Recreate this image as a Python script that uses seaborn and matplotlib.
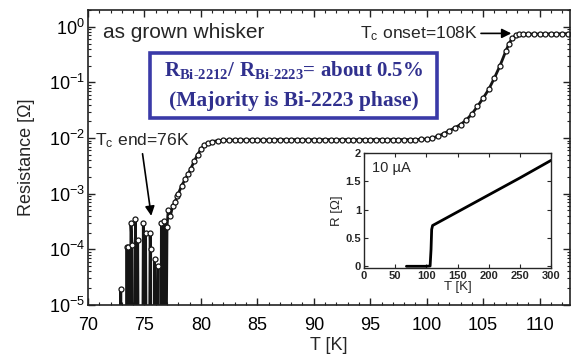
import numpy as np
import pandas as pd
import matplotlib
matplotlib.use("Agg")
import matplotlib.pyplot as plt
import seaborn as sns
from matplotlib.patches import Rectangle
from matplotlib.ticker import LogLocator, MultipleLocator, NullFormatter

# ---------------- data ----------------
temp_K = [72.85, 72.9, 72.95,
          73.4, 73.45, 73.5, 73.55, 73.65,
          73.75, 73.8, 73.9, 73.95,
          74.1, 74.2, 74.3, 74.4, 74.5,
          74.8, 74.9, 75.0, 75.1, 75.2,
          75.4, 75.5, 75.55, 75.6,
          75.85, 75.9, 76.0, 76.2, 76.3,
          76.45, 76.5, 76.6, 76.75, 76.85,
          77.0, 77.1, 77.3, 77.5, 77.7, 77.9, 78.0, 78.3, 78.6, 78.9,
          79.1, 79.4, 79.7, 80.0, 80.3, 80.6, 81.0,
          81.5, 82.0, 82.5, 83.0, 83.5, 84.0, 84.5, 85.0, 85.5, 86.0,
          86.5, 87.0, 87.5, 88.0, 88.5, 89.0, 89.5, 90.0, 90.5, 91.0,
          91.5, 92.0, 92.5, 93.0, 93.5, 94.0, 94.5, 95.0, 95.5, 96.0,
          96.5, 97.0, 97.5, 98.0, 98.5, 99.0, 99.5, 100.0,
          100.5, 101.0, 101.5, 102.0, 102.5, 103.0, 103.5, 104.0, 104.5,
          105.0, 105.5, 106.0, 106.5, 107.0, 107.3, 107.6, 107.9, 108.2,
          108.5, 109.0, 109.5, 110.0, 110.5, 111.0, 111.5, 112.0, 112.5, 113.0]
resistance_ohm = [1e-8, 1.9e-5, 1e-8,
                  1e-8, 1.1e-4, 1e-8, 1.1e-4, 1e-8,
                  1e-8, 3.0e-4, 1.2e-4, 1e-8,
                  1e-8, 3.5e-4, 1e-8, 1.5e-4, 1e-8,
                  1e-8, 3.0e-4, 1e-8, 2.0e-4, 1e-8,
                  1e-8, 2.0e-4, 1.0e-4, 1e-8,
                  1e-8, 6.6e-5, 1e-8, 5.0e-5, 1e-8,
                  1e-8, 3.0e-4, 1e-8, 3.2e-4, 1e-8,
                  2.5e-4, 5.0e-4, 4.0e-4, 6.0e-4, 7.0e-4, 9.0e-4, 1.0e-3, 1.4e-3, 1.8e-3, 2.3e-3,
                  2.8e-3, 3.8e-3, 5.0e-3, 6.3e-3, 7.4e-3, 8.1e-3, 8.6e-3,
                  0.0090, 0.0091, 0.0092, 0.0092, 0.0093, 0.0092, 0.0093, 0.0093, 0.0092, 0.0093,
                  0.0093, 0.0094, 0.0093, 0.0093, 0.0094, 0.0093, 0.0093, 0.0094, 0.0093, 0.0094,
                  0.0094, 0.0093, 0.0094, 0.0094, 0.0094, 0.0093, 0.0094, 0.0094, 0.0094, 0.0094,
                  0.0093, 0.0094, 0.0094, 0.0094, 0.0094, 0.0094, 0.0095, 0.0096,
                  0.0100, 0.0108, 0.0120, 0.0135, 0.0153, 0.0175, 0.021, 0.027, 0.037,
                  0.052, 0.075, 0.12, 0.20, 0.36, 0.50, 0.63, 0.70, 0.73,
                  0.74, 0.74, 0.74, 0.74, 0.745, 0.745, 0.745, 0.75, 0.75, 0.75]

inset_temp_K = [68, 80, 100, 106, 107.5, 108.5, 110, 150, 200, 250, 300]
inset_R_ohm = [0, 0, 0, 0.005, 0.30, 0.65, 0.72, 0.96, 1.26, 1.56, 1.87]

main_xticks = [70, 75, 80, 85, 90, 95, 100, 105, 110]
inset_xticks = [0, 50, 100, 150, 200, 250, 300]
inset_yticks = [0, 0.5, 1, 1.5, 2]

# ---------------- style ----------------
sns.set_theme(style="ticks")
plt.rcParams['font.family'] = ['Liberation Sans', 'DejaVu Sans']
plt.rcParams['mathtext.fontset'] = 'custom'
plt.rcParams['mathtext.rm'] = 'Liberation Sans'
plt.rcParams['mathtext.it'] = 'Liberation Sans:italic'
plt.rcParams['mathtext.bf'] = 'Liberation Serif:bold'

fig = plt.figure(figsize=(5.73, 3.6), dpi=100)
ax = fig.add_axes([0.1536, 0.1528, 0.8412, 0.8194])

df = pd.DataFrame({"T": temp_K, "R": resistance_ohm})
sns.lineplot(data=df, x="T", y="R", ax=ax, sort=False, estimator=None,
             color="#151515", lw=2.0, marker="o", markersize=3.6,
             markerfacecolor="white", markeredgecolor="#151515", markeredgewidth=0.9)

ax.set_yscale("log")
ax.set_xlim(70, 112.7)
ax.set_ylim(1e-5, 2.0)
ax.set_xticks(main_xticks)
ax.xaxis.set_minor_locator(MultipleLocator(1))
ax.yaxis.set_major_locator(LogLocator(base=10, numticks=10))
ax.yaxis.set_minor_locator(LogLocator(base=10, subs=np.arange(2, 10), numticks=20))
ax.yaxis.set_minor_formatter(NullFormatter())
ax.tick_params(which="both", direction="in", top=True, right=True, colors="#222222",
               labelcolor="black", labelsize=13)
ax.tick_params(axis="x", which="major", pad=9)
ax.tick_params(axis="y", which="major", pad=2)
ax.tick_params(which="major", length=5, width=1)
ax.tick_params(which="minor", length=2.5, width=0.8)
for s in ax.spines.values():
    s.set_linewidth(1.2)
    s.set_color("#222222")
ax.set_xlabel("T [K]", fontsize=13, labelpad=2)
ax.set_ylabel("Resistance [Ω]", fontsize=13, labelpad=10)

ax.text(71.3, 0.78, "as grown whisker", fontsize=15, va="center", ha="left")

# blue box
ax.add_patch(Rectangle((0.129, 0.634), 0.595, 0.22, transform=ax.transAxes,
                       facecolor="white", edgecolor="#3a3aa8", lw=2.6, zorder=5))
box_col = "#30308e"
ax.text(0.4265, 0.795, r"$\mathbf{R_{Bi‐2212}/\ R_{Bi‐2223}}$= about 0.5%",
        transform=ax.transAxes, ha="center", va="center", fontsize=15,
        fontfamily="Liberation Serif", fontweight="bold", color=box_col, zorder=6)
ax.text(0.4265, 0.690, "(Majority is Bi-2223 phase)",
        transform=ax.transAxes, ha="center", va="center", fontsize=15.5,
        fontfamily="Liberation Serif", fontweight="bold", color=box_col, zorder=6)

# annotations
ax.annotate(r"T$_\mathrm{c}$ onset=108K", xy=(107.5, 0.76), xytext=(99.3, 0.76),
            fontsize=12.6, va="center", ha="center",
            arrowprops=dict(arrowstyle="-|>", color="black", lw=1.2, mutation_scale=14,
                            shrinkA=0, shrinkB=0, relpos=(1.0, 0.5)))
ax.annotate(r"T$_\mathrm{c}$ end=76K", xy=(75.6, 4.0e-4), xytext=(70.6, 0.0088),
            fontsize=12.6, va="center", ha="left",
            arrowprops=dict(arrowstyle="-|>", color="black", lw=1.2, mutation_scale=14,
                            shrinkA=0, shrinkB=0, relpos=(0.5, 0.0)))

# inset
axin = fig.add_axes([0.6353, 0.2556, 0.3264, 0.3194])
dfi = pd.DataFrame({"T": inset_temp_K, "R": inset_R_ohm})
sns.lineplot(data=dfi, x="T", y="R", ax=axin, sort=False, estimator=None,
             color="black", lw=2.0)
axin.set_xlim(0, 300)
axin.set_ylim(-0.03, 2)
axin.set_xticks(inset_xticks)
axin.set_yticks(inset_yticks)
axin.set_yticklabels(["0", "0.5", "1", "1.5", "2"])
axin.tick_params(direction="in", length=3, width=0.8, labelsize=8, pad=2,
                 top=True, right=True)
for lab in axin.get_xticklabels() + axin.get_yticklabels():
    lab.set_fontweight("bold")
for s in axin.spines.values():
    s.set_linewidth(1.0)
axin.set_xlabel("T [K]", fontsize=9.5, labelpad=0)
axin.set_ylabel("R [Ω]", fontsize=9.5, labelpad=2)
axin.text(0.04, 0.93, "10 µA", transform=axin.transAxes, fontsize=10.5,
          ha="left", va="top")

fig.savefig("out.png", dpi=100)
